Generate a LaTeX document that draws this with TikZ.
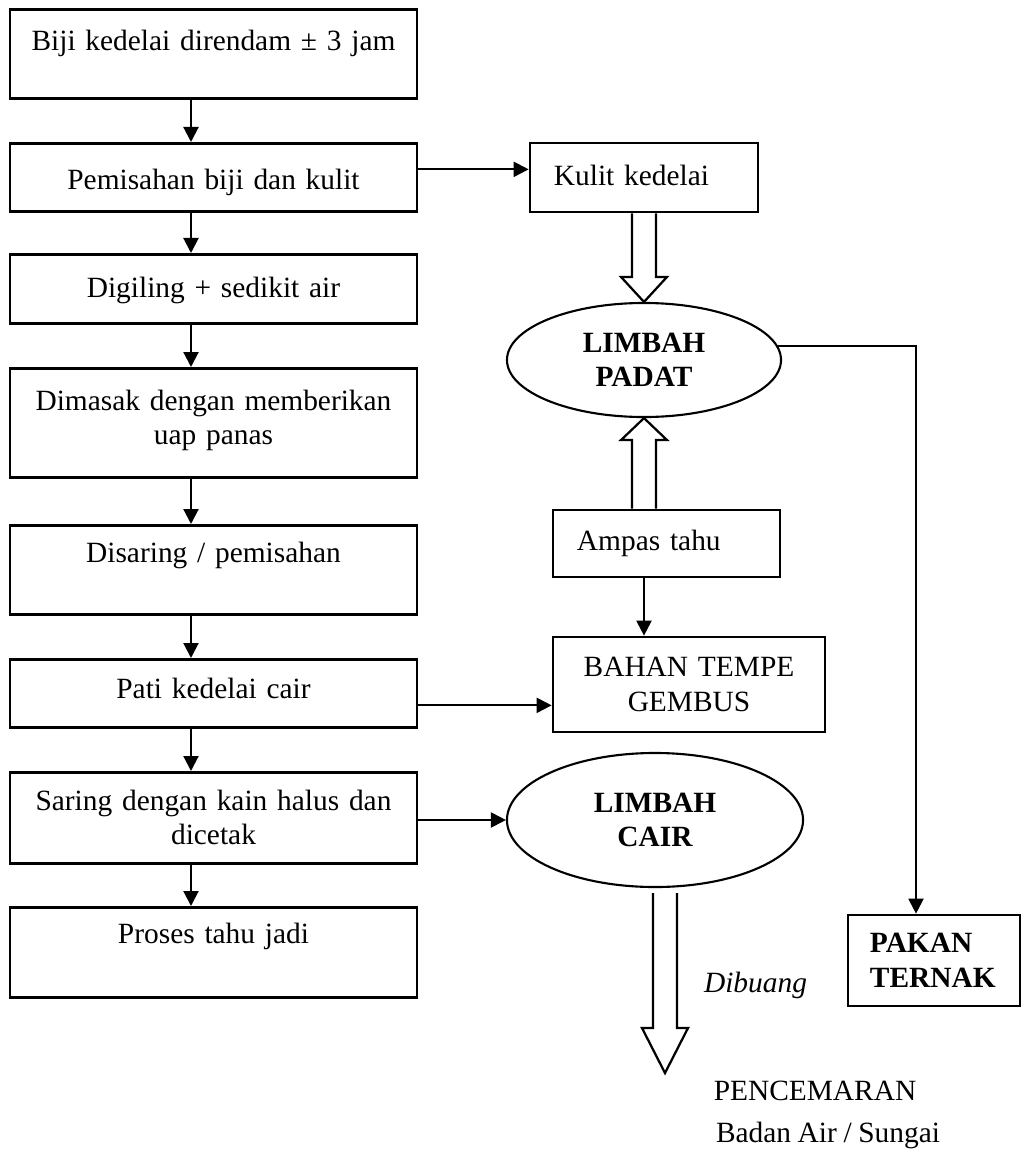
\documentclass[tikz,border=0pt]{standalone}
\usepackage{fontspec}
\setmainfont[WordSpace=0.9]{Liberation Serif}
\usetikzlibrary{arrows.meta, calc, shapes.geometric}

% hollow block arrow: start, tip, signed head length
\newcommand{\fatarrow}[3]{%
  \draw[fat] ($(#1)+(-12,0)$) -- ($(#2)+(-12,{-1*(#3)})$)
    -- ($(#2)+(-23,{-1*(#3)})$) -- (#2) -- ($(#2)+(23,{-1*(#3)})$)
    -- ($(#2)+(12,{-1*(#3)})$) -- ($(#1)+(12,0)$);}

\begin{document}
\fontsize{20.9pt}{24.5pt}\selectfont
\begin{tikzpicture}[x=0.025cm, y=-0.025cm, >=Latex,
    box/.style 2 args={draw, line width=1.9pt, anchor=north, minimum width=10.175cm, text width=9.6cm,
      align=center, inner ysep=0pt, text height=#1, text depth=#2},
    side/.style={draw, line width=1.9pt, align=left, inner ysep=0pt, inner xsep=0.6cm},
    oval/.style={draw, ellipse, line width=1.5pt, align=center, font=\bfseries, inner sep=0pt},
    arr/.style={line width=1.5pt, -{Triangle[length=0.375cm, width=0.375cm]}},
    fat/.style={line width=1.6pt, line join=miter}]
  \useasboundingbox (0,0) rectangle (1024,1157);

  % proses utama
  \node[box={1.025cm}{1.2cm}] (b1) at (213.5,8) {Biji kedelai direndam ± 3 jam};
  \node[box={1.15cm}{0.55cm}] (b2) at (213.5,142) {Pemisahan biji dan kulit};
  \node[box={1.075cm}{0.65cm}] (b3) at (213.5,253) {Digiling + sedikit air};
  \node[box={1.05cm}{1.675cm}] (b4) at (213.5,367) {Dimasak dengan memberikan\\ uap panas};
  \node[box={0.925cm}{1.3cm}] (b5) at (213.5,524) {Disaring / pemisahan};
  \node[box={0.975cm}{0.725cm}] (b6) at (213.5,658) {Pati kedelai cair};
  \node[box={0.95cm}{1.325cm}] (b7) at (213.5,771) {Saring dengan kain halus dan\\ dicetak};
  \node[box={0.9cm}{1.35cm}] (b8) at (213.5,906) {Proses tahu jadi};

  \foreach \a/\b in {b1/b2, b2/b3, b3/b4, b4/b5, b5/b6, b6/b7, b7/b8}
    \draw[arr] ([xshift=-0.5625cm]\a.south) -- ([xshift=-0.5625cm]\b.north);

  % limbah
  \node[side, text width=4.5cm, minimum height=1.725cm] (kulit) at (644,177.5) {\raisebox{3pt}{Kulit kedelai}};
  \node[oval, minimum width=6.85cm, minimum height=2.85cm] (padat) at (644,360) {LIMBAH\\PADAT};
  \node[side, text width=4.475cm, minimum height=1.675cm] (ampas) at (666.5,543.5) {Ampas tahu};
  \node[side, align=center, text width=5.6cm, minimum height=2.375cm] (bahan) at (689,684.5) {BAHAN TEMPE\\GEMBUS};
  \node[oval, minimum width=7.4cm, minimum height=3.35cm] (cair) at (655,820) {LIMBAH\\CAIR};
  \node[side, font=\bfseries, text width=3.2cm, inner xsep=0.55cm, minimum height=2.275cm] (pakan) at (934,960.5) {PAKAN\\TERNAK};

  \node[font=\itshape, anchor=west] (buang) at (694,985) {Dibuang};
  \node (cemar) at (815,1091) {PENCEMARAN};
  \node (sungai) at (828,1135) {Badan Air / Sungai};

  \draw[arr] ($(b2.east)+(0,-8)$) -- ($(b2.east -| kulit.west)+(0,-8)$);
  \draw[arr] ($(b6.east)+(0,12)$) -- ($(b6.east -| bahan.west)+(0,12)$);
  \draw[arr] (b7.east |- cair.west) -- (cair.west);
  \draw[arr] (padat.south |- ampas.south) -- (padat.south |- bahan.north);

  \coordinate (turn) at (916,0);
  \draw[arr] (padat.6) -- (padat.6 -| turn) -- (turn |- pakan.north);

  \fatarrow{kulit.south}{padat.north}{25}
  \coordinate (ampastop) at (padat.south |- ampas.north);
  \fatarrow{ampastop}{padat.south}{-22}
  \coordinate (drain) at (665,893);
  \coordinate (sink) at (665,1073);
  \fatarrow{drain}{sink}{45}
\end{tikzpicture}
\end{document}
